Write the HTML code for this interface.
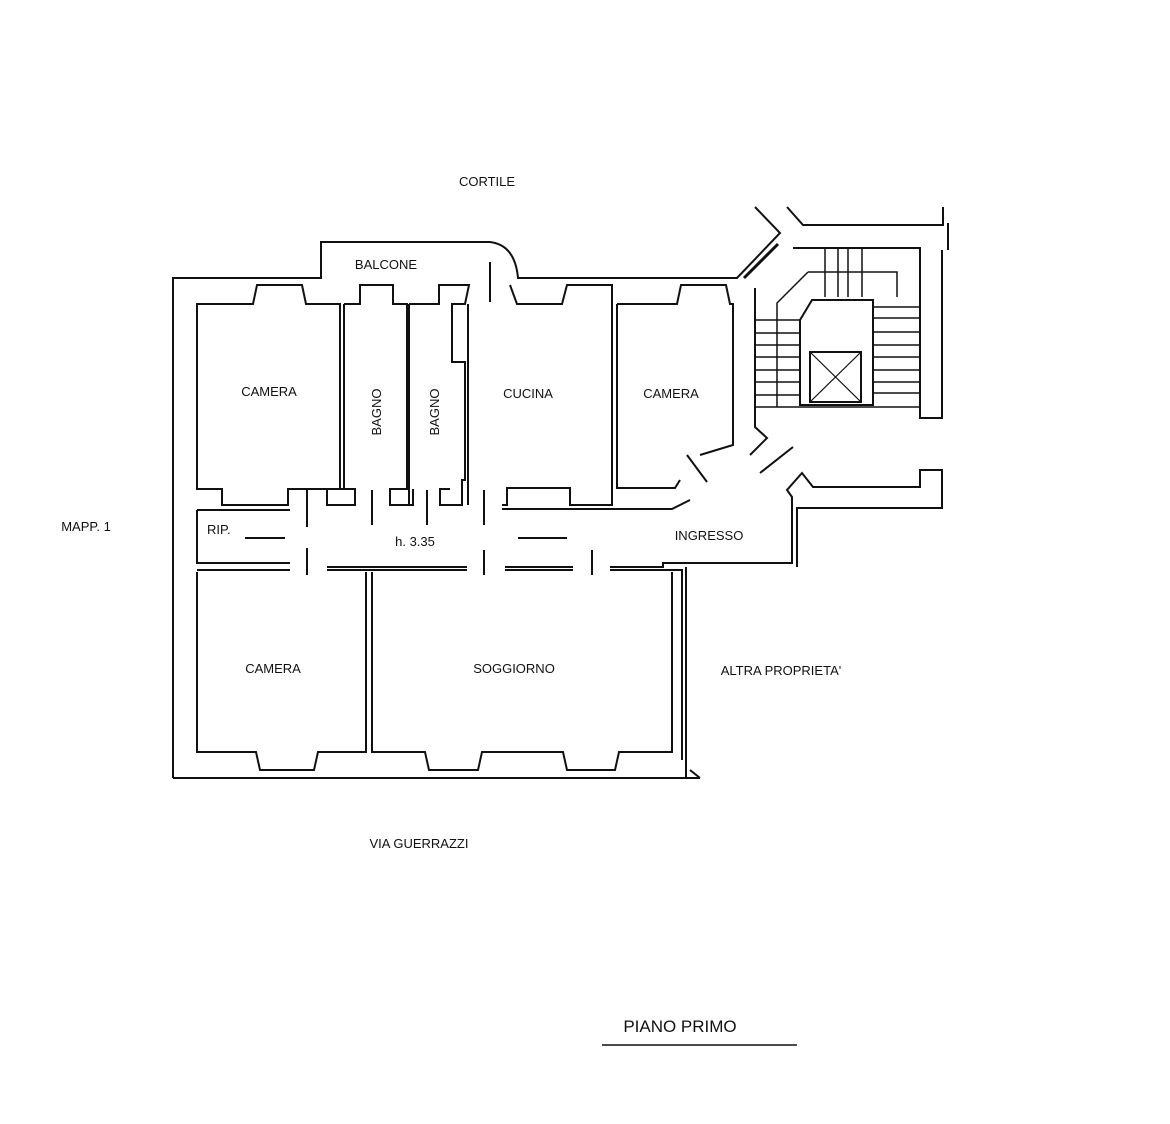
<!DOCTYPE html>
<html><head><meta charset="utf-8"><style>
html,body{margin:0;padding:0;background:#fff;}
svg{display:block;}
text{font-family:"Liberation Sans",sans-serif;font-size:13px;fill:#111;}
</style></head><body>
<svg width="1170" height="1124" viewBox="0 0 1170 1124" xmlns="http://www.w3.org/2000/svg">
<g fill="none" stroke="#111" stroke-width="2" stroke-linejoin="miter">
<path d="M173,778 V278 H321 V242 H490 Q515,245 518,278 H737 L780,233 L755,207"/>
<path d="M173,778 H700"/>
<line x1="490" y1="262" x2="490" y2="302"/>
<path d="M197,304 H253 L257,285 H302 L306,304 H340 V489 H288 V505 H222 V489 H197 Z"/>
<path d="M344,304 H360 V285 H393 V304 H407 V489 H390 V505 H413 V489 M344,304 V489 H355 V505 H327 V489 H344"/>
<path d="M409,304 H439 V285 H469 L465,304 H452 V362 H465 V480 H462 V505 H440 V489 H450 M409,304 V505"/>
<path d="M510,285 L517,304 H562 L567,285 H612 V505 H570 V488 H507 V505 H502 M468,304 V505"/>
<path d="M617,304 H677 L681,285 H726 L730,304 H733 V445 L700,455 M617,304 V488 H675 L680,480"/>
<path d="M197,510 H290 M197,510 V563 H290 M197,570 H290"/>
<path d="M327,570 H467 M327,567 H467"/>
<path d="M505,570 H573 M505,567 H573 M502,509 H672 L690,500"/>
<path d="M610,570 H682 V760 M610,567 H663 V563 H792 V497 L787,490 L802,473 L813,487 H920 V470 H942 V508 H797 V567"/>
<path d="M686,567 V778"/>
<path d="M700,778 L690,770"/>
<path d="M307,490 V527 M307,548 V575 M372,490 V525 M427,490 V525 M484,490 V525 M484,550 V575 M592,550 V575"/>
<path d="M245,538 H285 M518,538 H567"/>
<path d="M687,455 L707,482 M760,473 L793,447"/>
<path d="M197,577 V752 H256 L260,770 H314 L318,752 H366 V572 M197,572 V577"/>
<path d="M372,572 V752 H425 L429,770 H478 L482,752 H563 L567,770 H615 L619,752 H672 V572"/>
<path d="M787,207 L803,225 H943 V207 M948,223 V250 M942,250 V418 H920 V248 H793"/>
<path d="M755,288 V427 L767,438 L750,455"/>
<path d="M800,320 L812,300 H873 V405 H800 Z"/>
<rect x="810" y="352" width="51" height="50"/>
<path d="M810,352 L861,402 M861,352 L810,402" stroke-width="1.2"/>
<path d="M755,320 H800 M755,333 H800 M755,345 H800 M755,357 H800 M755,370 H800 M755,382 H800 M755,395 H800 M755,407 H920" stroke-width="1.5"/>
<path d="M873,307 H920 M873,318 H920 M873,332 H920 M873,345 H920 M873,357 H920 M873,370 H920 M873,382 H920 M873,393 H920" stroke-width="1.5"/>
<path d="M825,248 V297 M838,248 V297 M848,248 V297 M862,248 V297 M808,272 H897 V297 M808,272 L777,303 V407" stroke-width="1.5"/>
<path d="M744,278 L778,244" stroke-width="3"/>
</g>
<text x="487" y="186" text-anchor="middle">CORTILE</text>
<text x="386" y="269" text-anchor="middle">BALCONE</text>
<text x="269" y="396" text-anchor="middle">CAMERA</text>
<text transform="translate(381,412) rotate(-90)" text-anchor="middle">BAGNO</text>
<text transform="translate(439,412) rotate(-90)" text-anchor="middle">BAGNO</text>
<text x="528" y="398" text-anchor="middle">CUCINA</text>
<text x="671" y="398" text-anchor="middle">CAMERA</text>
<text x="207" y="534">RIP.</text>
<text x="415" y="546" text-anchor="middle">h. 3.35</text>
<text x="709" y="540" text-anchor="middle">INGRESSO</text>
<text x="86" y="531" text-anchor="middle">MAPP. 1</text>
<text x="273" y="673" text-anchor="middle">CAMERA</text>
<text x="514" y="673" text-anchor="middle">SOGGIORNO</text>
<text x="781" y="675" text-anchor="middle">ALTRA PROPRIETA'</text>
<text x="419" y="848" text-anchor="middle">VIA GUERRAZZI</text>
<text x="680" y="1032" text-anchor="middle" style="font-size:17px">PIANO PRIMO</text>
<line x1="602" y1="1045" x2="797" y2="1045" stroke="#111" stroke-width="1.5"/>
</svg>
</body></html>
